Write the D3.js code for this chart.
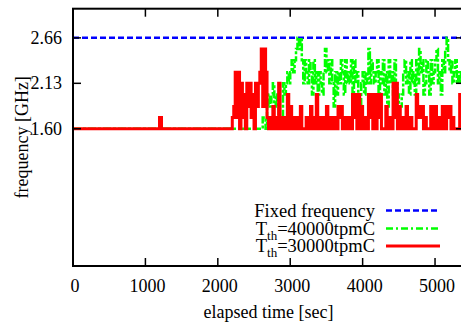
<!DOCTYPE html>
<html>
<head>
<meta charset="utf-8">
<script src="https://cdn.jsdelivr.net/npm/d3@7"></script>
<style>
  body { margin: 0; background: #fff; }
  text { font-family: "Liberation Serif", "Times New Roman", serif; fill: #000; }
</style>
</head>
<body>
<svg id="chart" width="461" height="327"></svg>
<script>
// tick values
const xTicks = [0, 1000, 2000, 3000, 4000, 5000];
const yTicks = [1.60, 2.13, 2.66];

// fixed frequency (GHz)
const fixedFreq = 2.66;

// both threshold runs sit at the base frequency before their logs start
const baseFreq = 1.60;
const sampleSec = 20;

// Tth=30000tpmC: short bump near 1200 s, then one sample every sampleSec from redStart
const redBump = [[1195, 1.73], [1222, 1.60]];
const redStart = 2200;
const redFreq = [
  1.73,1.86,2.26,1.73,2.26,1.60,2.13,1.73,2.00,1.60,2.13,1.86,2.13,1.73,2.00,1.60,
  2.13,1.86,2.13,2.26,2.53,1.86,2.53,2.26,1.73,1.60,1.73,1.60,1.86,1.60,1.73,1.60,
  2.13,1.73,1.60,1.73,1.60,1.73,2.00,1.60,1.86,1.60,1.73,1.60,1.73,1.60,1.60,1.86,
  1.60,1.60,1.60,1.73,1.60,1.73,1.86,1.60,1.73,1.60,2.00,1.60,1.60,1.73,1.60,1.73,
  1.60,1.86,1.60,1.73,1.60,1.60,1.73,1.60,1.60,1.86,1.73,1.86,1.60,1.60,1.73,1.60,
  1.73,1.60,1.60,2.00,1.73,2.00,1.60,2.00,1.60,1.86,1.60,1.60,1.73,1.60,2.00,1.73,
  2.00,1.60,2.00,1.60,2.00,1.73,2.00,1.60,1.60,1.60,1.86,1.60,1.60,1.73,1.60,2.13,
  1.73,2.13,1.60,1.86,1.60,1.60,1.73,1.60,1.86,1.60,1.60,1.73,1.60,1.60,1.60,2.00,
  1.73,1.86,1.73,1.86,1.60,1.73,1.60,1.60,1.60,1.86,1.73,1.60,1.86,1.60,1.73,1.60,
  1.60,1.86,1.73,1.60,1.86,1.73,1.86,1.60,1.73,1.60,1.60,1.60,1.60,2.00,2.00
];

// Tth=40000tpmC: one sample every sampleSec from greenStart
const greenStart = 2600;
const greenFreq = [
  1.60,1.73,1.73,1.60,1.86,2.00,1.86,2.00,2.13,1.86,2.00,1.86,1.73,1.73,1.73,2.13,
  2.00,2.13,2.26,2.13,2.26,2.40,2.26,2.40,2.53,2.66,2.53,2.66,2.40,2.13,2.40,2.26,
  2.13,2.40,2.26,2.00,2.40,2.13,2.26,2.00,2.26,2.13,2.00,2.26,2.53,2.26,2.40,2.13,
  2.40,2.13,1.86,2.26,2.00,2.26,2.13,2.40,2.26,2.00,2.40,2.13,2.26,2.13,2.40,2.00,
  2.40,2.13,2.26,2.00,1.86,2.13,2.26,2.00,2.26,2.13,2.53,2.13,2.40,2.26,2.13,2.26,
  2.40,2.00,2.26,2.13,2.40,2.00,2.26,1.86,2.40,2.13,2.26,2.00,2.40,2.13,2.00,1.86,
  1.86,2.00,2.26,2.40,2.13,2.26,2.00,2.40,2.13,2.26,2.00,2.40,2.13,2.53,2.26,2.40,
  2.00,2.13,2.40,2.26,2.00,2.40,2.13,2.26,2.40,2.53,2.13,2.26,2.00,2.40,2.26,2.53,
  2.66,2.40,2.26,2.40,2.13,2.26,2.40,2.13,2.26,2.13,2.26,2.13
];

const svg = d3.select("#chart");
const mLeft = 73, mRight = 464, mTop = 8.7, mBottom = 266;

const x = d3.scaleLinear().domain([0, 5400]).range([mLeft, mRight]);
const y = d3.scaleLinear().domain([0, 3.0]).range([mBottom, mTop]);

svg.append("clipPath").attr("id", "plotclip")
  .append("rect")
  .attr("x", mLeft).attr("y", mTop)
  .attr("width", mRight - mLeft).attr("height", mBottom - mTop);

const plot = svg.append("g").attr("clip-path", "url(#plotclip)");

const line = d3.line()
  .x(d => x(d[0]))
  .y(d => y(d[1]))
  .curve(d3.curveStepAfter);

function samples(start, vals) {
  const pts = vals.map((f, i) => [start + i * sampleSec, f]);
  pts.push([start + vals.length * sampleSec, vals[vals.length - 1]]);
  return pts;
}

// blue fixed frequency
plot.append("path")
  .datum([[0, fixedFreq], [5400, fixedFreq]])
  .attr("d", line)
  .attr("fill", "none")
  .attr("stroke", "#0000ff")
  .attr("stroke-width", 2.5)
  .attr("stroke-dasharray", "6,3");

// green
const greenPts = [[0, baseFreq]].concat(samples(greenStart, greenFreq));
plot.append("path")
  .datum(greenPts)
  .attr("d", line)
  .attr("fill", "none")
  .attr("stroke", "#00ff00")
  .attr("stroke-width", 2.5)
  .attr("stroke-dasharray", "8,2,3,2");

// red
const redPts = [[0, baseFreq]].concat(redBump, samples(redStart, redFreq));
plot.append("path")
  .datum(redPts)
  .attr("d", line)
  .attr("fill", "none")
  .attr("stroke", "#ff0000")
  .attr("stroke-width", 3);

// frame
svg.append("rect")
  .attr("x", mLeft).attr("y", mTop)
  .attr("width", mRight - mLeft).attr("height", mBottom - mTop)
  .attr("fill", "none").attr("stroke", "#000").attr("stroke-width", 2);

// x ticks (bottom + top, inward)
const tickLen = 8;
svg.selectAll(".xt").data(xTicks).enter().append("line")
  .attr("x1", d => x(d)).attr("x2", d => x(d))
  .attr("y1", mBottom).attr("y2", mBottom - tickLen)
  .attr("stroke", "#000").attr("stroke-width", 1.5);
svg.selectAll(".xtt").data(xTicks).enter().append("line")
  .attr("x1", d => x(d)).attr("x2", d => x(d))
  .attr("y1", mTop).attr("y2", mTop + tickLen)
  .attr("stroke", "#000").attr("stroke-width", 1.5);
svg.selectAll(".xl").data(xTicks).enter().append("text")
  .attr("x", d => x(d) + 2).attr("y", 292)
  .attr("text-anchor", "middle")
  .style("font-size", "18px")
  .text(d => d);

// y ticks (left + right, inward)
svg.selectAll(".yt").data(yTicks).enter().append("line")
  .attr("x1", mLeft).attr("x2", mLeft + tickLen)
  .attr("y1", d => y(d)).attr("y2", d => y(d))
  .attr("stroke", "#000").attr("stroke-width", 1.5);
svg.selectAll(".ytr").data(yTicks).enter().append("line")
  .attr("x1", mRight).attr("x2", mRight - tickLen)
  .attr("y1", d => y(d)).attr("y2", d => y(d))
  .attr("stroke", "#000").attr("stroke-width", 1.5);
svg.selectAll(".yl").data(yTicks).enter().append("text")
  .attr("x", 62).attr("y", d => y(d))
  .attr("dy", "0.33em")
  .attr("text-anchor", "end")
  .style("font-size", "18px")
  .text(d => d3.format(".2f")(d));

// axis titles
svg.append("text")
  .attr("x", (mLeft + mRight) / 2).attr("y", 318)
  .attr("text-anchor", "middle")
  .style("font-size", "18px")
  .text("elapsed time [sec]");
svg.append("text")
  .attr("transform", "translate(28," + ((mTop + mBottom) / 2) + ") rotate(-90)")
  .attr("text-anchor", "middle")
  .style("font-size", "18px")
  .text("frequency [GHz]");

// legend
const legend = [
  { label: "Fixed frequency", sub: null, color: "#0000ff", dash: "6,3" },
  { label: "T", sub: "th", rest: "=40000tpmC", color: "#00ff00", dash: "7,3,2,3" },
  { label: "T", sub: "th", rest: "=30000tpmC", color: "#ff0000", dash: null }
];
const legY = [216.5, 234.5, 252];
legend.forEach((d, i) => {
  const t = svg.append("text")
    .attr("x", 375).attr("y", legY[i])
    .attr("text-anchor", "end")
    .style("font-size", "18.5px");
  t.append("tspan").text(d.label);
  if (d.sub) {
    t.append("tspan").attr("dy", 5).style("font-size", "13px").text(d.sub);
    t.append("tspan").attr("dy", -5).text(d.rest);
  }
  svg.append("line")
    .attr("x1", 386).attr("x2", 440)
    .attr("y1", legY[i] - 6).attr("y2", legY[i] - 6)
    .attr("stroke", d.color).attr("stroke-width", d.dash ? 2.5 : 3)
    .attr("stroke-dasharray", d.dash);
});
</script>
</body>
</html>
